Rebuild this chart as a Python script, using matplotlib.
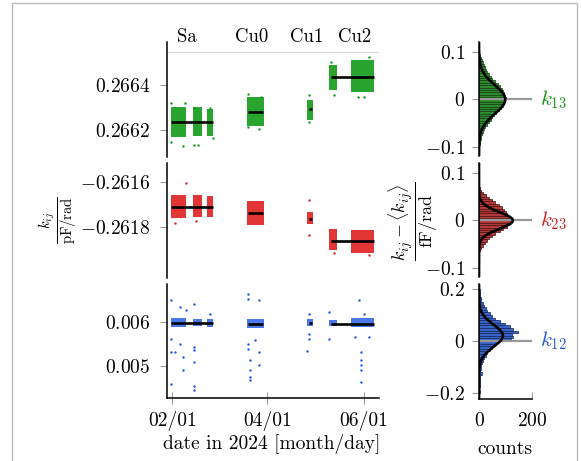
import numpy as np
import matplotlib
matplotlib.use('Agg')
import matplotlib.pyplot as plt
import matplotlib.dates as mdates
from matplotlib.patches import Rectangle

plt.rcParams['font.family'] = 'serif'
plt.rcParams['font.serif'] = ['cmr10']
plt.rcParams['mathtext.fontset'] = 'cm'
plt.rcParams['axes.formatter.use_mathtext'] = True

# ---- data ----
periods = ['Sa', 'Cu0', 'Cu1', 'Cu2']
period_label_dates = ['2024-02-10', '2024-03-22', '2024-04-26', '2024-05-26']

# measurement blocks
block_start = ['2024-01-31', '2024-02-14', '2024-02-23', '2024-03-19', '2024-04-26', '2024-05-10', '2024-05-24']
block_end = ['2024-02-10', '2024-02-20', '2024-02-27', '2024-03-30', '2024-04-30', '2024-05-15', '2024-06-07']

k13_lo = [0.266169, 0.266175, 0.266175, 0.266218, 0.266244, 0.266378, 0.266369]
k13_hi = [0.266302, 0.266300, 0.266295, 0.266347, 0.266333, 0.266489, 0.266511]
k23_lo = [-0.261760, -0.261758, -0.261755, -0.261791, -0.261787, -0.261902, -0.261916]
k23_hi = [-0.261658, -0.261660, -0.261662, -0.261684, -0.261733, -0.261809, -0.261813]
k12_lo = [0.005880, 0.005900, 0.005890, 0.005870, 0.005900, 0.005900, 0.005880]
k12_hi = [0.006080, 0.006060, 0.006070, 0.006070, 0.006060, 0.006040, 0.006080]

# mean value per period
mean_start = ['2024-01-31', '2024-03-20', '2024-04-27', '2024-05-11']
mean_end = ['2024-02-27', '2024-03-29', '2024-04-29', '2024-06-07']
k13_mean = [0.266236, 0.266280, 0.266293, 0.266436]
k23_mean = [-0.261711, -0.261738, -0.261764, -0.261862]
k12_mean = [0.005986, 0.005964, 0.005970, 0.005964]

# scattered single points outside the dense blocks
k13_out_dates = ['2024-01-31', '2024-01-31', '2024-02-08', '2024-02-09', '2024-02-15', '2024-02-17',
                 '2024-02-15', '2024-02-25', '2024-02-27', '2024-03-20', '2024-03-28', '2024-03-20',
                 '2024-03-27', '2024-04-27', '2024-04-27', '2024-05-11', '2024-05-13', '2024-06-04',
                 '2024-05-28', '2024-06-01']
k13_out_vals = [0.266319, 0.266148, 0.266129, 0.266321, 0.266133, 0.266133,
                0.266296, 0.266296, 0.266163, 0.266360, 0.266348, 0.266215,
                0.266206, 0.266356, 0.266237, 0.266504, 0.266356, 0.266526,
                0.266345, 0.266345]
k23_out_dates = ['2024-02-10', '2024-02-03', '2024-02-16', '2024-04-27', '2024-04-27', '2024-05-13',
                 '2024-06-04']
k23_out_vals = [-0.261603, -0.261781, -0.261773, -0.261680, -0.261836, -0.261917,
                -0.261924]
k12_out_dates = ['2024-01-31', '2024-01-31', '2024-01-31', '2024-01-31', '2024-02-03', '2024-02-06',
                 '2024-02-08', '2024-02-08', '2024-02-06', '2024-02-10', '2024-02-15', '2024-02-15',
                 '2024-02-15', '2024-02-15', '2024-02-15', '2024-02-15', '2024-02-25', '2024-03-20',
                 '2024-03-20', '2024-03-20', '2024-03-20', '2024-03-21', '2024-03-21', '2024-03-21',
                 '2024-03-21', '2024-03-27', '2024-03-27', '2024-03-27', '2024-03-24', '2024-04-27',
                 '2024-04-27', '2024-04-27', '2024-04-26', '2024-05-10', '2024-05-10', '2024-05-30',
                 '2024-05-30', '2024-05-30', '2024-05-30', '2024-05-30', '2024-05-29', '2024-05-26',
                 '2024-06-01', '2024-06-04']
k12_out_vals = [0.006493, 0.004600, 0.005623, 0.005318, 0.005318, 0.005509,
                0.005205, 0.004918, 0.006340, 0.006266, 0.006418, 0.005432,
                0.005357, 0.005091, 0.004539, 0.004463, 0.006191, 0.006630,
                0.006532, 0.005509, 0.005395, 0.004902, 0.004750, 0.004675,
                0.005130, 0.006493, 0.005318, 0.005016, 0.005584, 0.006191,
                0.005736, 0.005623, 0.005341, 0.006227, 0.005623, 0.005318,
                0.005130, 0.005016, 0.004918, 0.004636, 0.006493, 0.005660,
                0.006191, 0.005660]

# histograms of deviations from the mean (fF/rad)
hist13_edges_lo = -0.1
hist13_step = 0.005
hist13_counts = [1, 2, 5, 7, 9, 12, 15, 19, 24, 30, 37, 44, 50, 57, 65, 74, 84, 90, 95, 99,
                 102, 98, 95, 92, 88, 80, 70, 60, 50, 44, 38, 32, 27, 23, 18, 14, 10, 6, 3, 1]
hist23_edges_lo = -0.1
hist23_step = 0.005
hist23_counts = [0, 0, 0, 0, 0, 0, 1, 4, 9, 14, 22, 30, 37, 48, 62, 78, 90, 104, 115, 120,
                 118, 112, 105, 100, 96, 86, 75, 62, 50, 36, 25, 14, 7, 2, 0, 0, 0, 0, 0, 0]
hist12_edges_lo = -0.2
hist12_step = 0.01
hist12_counts = [2, 1, 2, 3, 2, 3, 4, 12, 5, 7, 9, 12, 16, 20, 26, 32, 40, 50, 60, 68,
                 120, 128, 125, 147, 130, 117, 98, 79, 62, 50, 40, 32, 26, 18, 14, 9, 7, 5, 4, 3]

# gaussian fits drawn over the histograms: amplitude, centre, width
fit13 = (99, 0.0, 0.030)
fit23 = (128, 0.0, 0.0175)
fit12 = (90, 0.02, 0.043)

green = '#119a17'
red = '#df2020'
blue = '#1f55e0'
hist_face = ['#2f8a2f', '#b33a3a', '#3a64c4']
hist_edge = ['#0f3d0f', '#4a0d0d', '#0e2560']
label_col = ['#149414', '#c42222', '#2456d0']

fig = plt.figure(figsize=(5.81, 4.61), dpi=100)
W, H = 581.0, 461.0


def px_axes(x0, y0, x1, y1):
    return fig.add_axes([x0 / W, 1 - y1 / H, (x1 - x0) / W, (y1 - y0) / H])


rows = [(42, 157), (163, 278), (284, 398)]
left_axes = [px_axes(167, r0, 379, r1) for r0, r1 in rows]
right_axes = [px_axes(479, 42, 532, 156), px_axes(479, 163, 532, 277), px_axes(479, 284, 532, 399)]

def d(s):
    return np.datetime64(s, 'h')

xlim = (np.datetime64('2024-01-28T17', 'h'), np.datetime64('2024-06-10T10', 'h'))

panels = [
    (k13_lo, k13_hi, k13_mean, k13_out_dates, k13_out_vals, green, (0.26608, 0.266591),
     [0.2664, 0.2662], ['$0.2664$', '$0.2662$']),
    (k23_lo, k23_hi, k23_mean, k23_out_dates, k23_out_vals, red, (-0.262027, -0.261516),
     [-0.2616, -0.2618], ['$-0.2616$', '$-0.2618$']),
    (k12_lo, k12_hi, k12_mean, k12_out_dates, k12_out_vals, blue, (0.004273, 0.006864),
     [0.006, 0.005], ['$0.006$', '$0.005$']),
]

for i, (ax, p) in enumerate(zip(left_axes, panels)):
    lo, hi, mean, od, ov, col, ylim, yt, ytl = p
    for s, e, a, b in zip(block_start, block_end, lo, hi):
        ax.fill_between([d(s), d(e)], a, b, color=col, lw=0, alpha=0.9 if i < 2 else 0.8)
    ax.scatter([d(t) for t in od], ov, s=3, color=col, lw=0)
    for s, e, m in zip(mean_start, mean_end, mean):
        ax.plot([d(s), d(e)], [m, m], color='black', lw=1.9, solid_capstyle='butt')
    ax.set_xlim(*xlim)
    ax.set_ylim(*ylim)
    ax.set_yticks(yt, ytl)
    for sp in ['top', 'right']:
        ax.spines[sp].set_visible(False)
    ax.spines['left'].set_linewidth(1.1)
    ax.tick_params(axis='y', length=5, width=0.8, color='#999999', pad=7, labelsize=14)
    if i < 2:
        ax.spines['bottom'].set_visible(False)
        ax.set_xticks([])
    else:
        ax.spines['bottom'].set_linewidth(1.1)
        ax.set_xticks([d('2024-02-01'), d('2024-04-01'), d('2024-06-01')])
        ax.xaxis.set_major_formatter(mdates.DateFormatter('%m/%d'))
        ax.tick_params(axis='x', length=8, width=0.8, color='#999999', direction='inout',
                       pad=5, labelsize=14)

top = left_axes[0]
top.axhline(0.266547, color='#d8d8d8', lw=0.9)
for lab, dt in zip(periods, period_label_dates):
    top.text(d(dt), 1.04, lab, transform=top.get_xaxis_transform(), ha='center', va='center',
             fontsize=13.5)

hists = [
    (hist13_edges_lo, hist13_step, hist13_counts, fit13, (-0.119, 0.121), [0.1, 0, -0.1],
     ['$0.1$', '$0$', '$-0.1$'], '$k_{13}$'),
    (hist23_edges_lo, hist23_step, hist23_counts, fit23, (-0.119, 0.121), [0.1, 0, -0.1],
     ['$0.1$', '$0$', '$-0.1$'], '$k_{23}$'),
    (hist12_edges_lo, hist12_step, hist12_counts, fit12, (-0.223, 0.219), [0.2, 0, -0.2],
     ['$0.2$', '$0$', '$-0.2$'], '$k_{12}$'),
]

for i, (ax, h) in enumerate(zip(right_axes, hists)):
    e0, step, counts, fit, ylim, yt, ytl, lab = h
    centres = e0 + step * (np.arange(len(counts)) + 0.5)
    ax.barh(centres, counts, height=step, color=hist_face[i], edgecolor=hist_edge[i], lw=0.5)
    ax.plot([0, 200], [0, 0], color='#999999', lw=1.6)
    amp, mu, sig = fit
    yy = np.linspace(ylim[0], ylim[1], 400)
    ax.plot(amp * np.exp(-(yy - mu) ** 2 / (2 * sig ** 2)), yy, color='black', lw=1.9)
    ax.set_xlim(0, 200)
    ax.set_ylim(*ylim)
    ax.set_yticks(yt, ytl)
    for sp in ['top', 'right']:
        ax.spines[sp].set_visible(False)
    ax.spines['left'].set_linewidth(1.1)
    ax.tick_params(axis='y', length=5, width=0.8, color='#999999', pad=5, labelsize=14)
    ax.text(1.15, 0, lab, transform=ax.get_yaxis_transform(), color=label_col[i],
            ha='left', va='center', fontsize=15)
    if i < 2:
        ax.spines['bottom'].set_visible(False)
        ax.set_xticks([])
    else:
        ax.spines['bottom'].set_linewidth(1.1)
        ax.set_xticks([0, 200], ['$0$', '$200$'])
        ax.tick_params(axis='x', length=5, width=0.8, color='#999999', direction='in',
                       pad=9, labelsize=14)

fig.text(59 / W, 1 - 220 / H, r'$\frac{k_{ij}}{\mathrm{pF/rad}}$', rotation=90,
         ha='center', va='center', fontsize=15)
fig.text(413 / W, 1 - 221 / H, r'$\frac{k_{ij}-\langle k_{ij}\rangle}{\mathrm{fF/rad}}$',
         rotation=90, ha='center', va='center', fontsize=18.5)
fig.text(272 / W, 1 - 444 / H, 'date in 2024 [month/day]', ha='center', va='center', fontsize=14)
fig.text(505 / W, 1 - 449 / H, 'counts', ha='center', va='center', fontsize=14)

fig.patches.append(Rectangle((12 / W, -0.02), 565 / W, (461 - 3) / H + 0.02, transform=fig.transFigure,
                             fill=False, edgecolor='#bbbbbb', lw=1.0))

fig.savefig('out.png', dpi=100)
